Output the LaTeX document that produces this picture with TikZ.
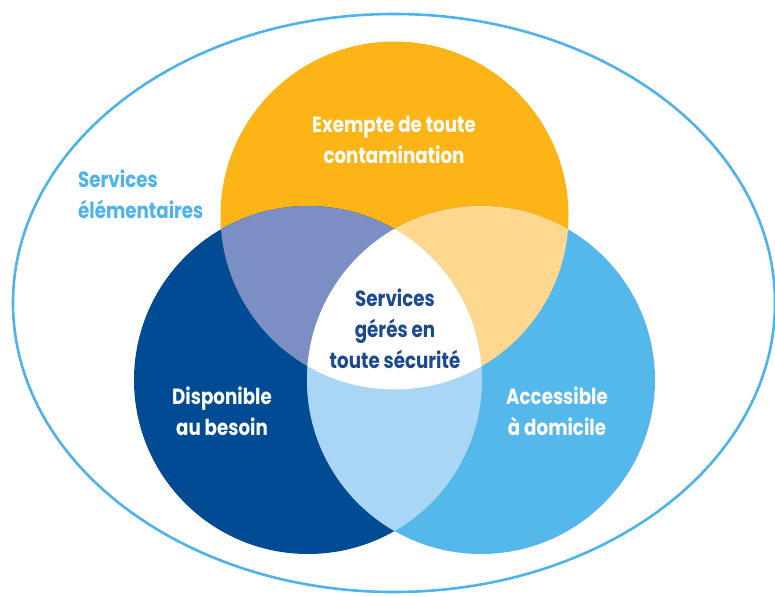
\documentclass[tikz,border=0pt]{standalone}
\usepackage{fontspec}
\setmainfont{Poppins}[FakeStretch=0.83]
\definecolor{cOrange}{HTML}{FDB417}
\definecolor{cDark}{HTML}{004B93}
\definecolor{cLight}{HTML}{55B8EA}
\definecolor{cPurple}{HTML}{7B8FC4}
\definecolor{cPaleOr}{HTML}{FED88F}
\definecolor{cPaleBl}{HTML}{A8D6F4}
\definecolor{cCenter}{HTML}{1D4A8C}
\definecolor{cRing}{HTML}{4DB3EA}
\tikzset{
  lbl/.style={align=center, font=\fontsize{22}{31}\selectfont\bfseries, inner sep=0pt},
  whitelbl/.style={lbl, text=white},
}
\begin{document}
\begin{tikzpicture}[x=1pt,y=-1pt]
\useasboundingbox (0,0) rectangle (775,596);
\coordinate (E) at (394,303);
\coordinate (O) at (394.5,215.5);
\coordinate (D) at (308,380);
\coordinate (L) at (481,380);
\def\R{174pt}
\draw[cRing, line width=2.6pt] (E) ellipse [x radius=381pt, y radius=289pt];
\fill[cOrange] (O) circle[radius=\R];
\fill[cDark] (D) circle[radius=\R];
\fill[cLight] (L) circle[radius=\R];
\begin{scope}
  \clip (O) circle[radius=\R];
  \fill[cPurple] (D) circle[radius=\R];
  \fill[cPaleOr] (L) circle[radius=\R];
\end{scope}
\begin{scope}
  \clip (D) circle[radius=\R];
  \fill[cPaleBl] (L) circle[radius=\R];
  \clip (O) circle[radius=\R];
  \fill[white] (L) circle[radius=\R];
\end{scope}
\node[whitelbl] (top) at (394,140) {Exempte de toute\\contamination};
\node[whitelbl] (left) at (222,411) {Disponible\\au besoin};
\node[whitelbl] (right) at (557,411) {Accessible\\à domicile};
\node[lbl, text=cCenter] (mid) at (395,329) {Services\\gérés en\\toute sécurité};
\node[lbl, text=cRing, align=left, anchor=west] (outer) at (78,194) {Services\\élémentaires};
\end{tikzpicture}
\end{document}
